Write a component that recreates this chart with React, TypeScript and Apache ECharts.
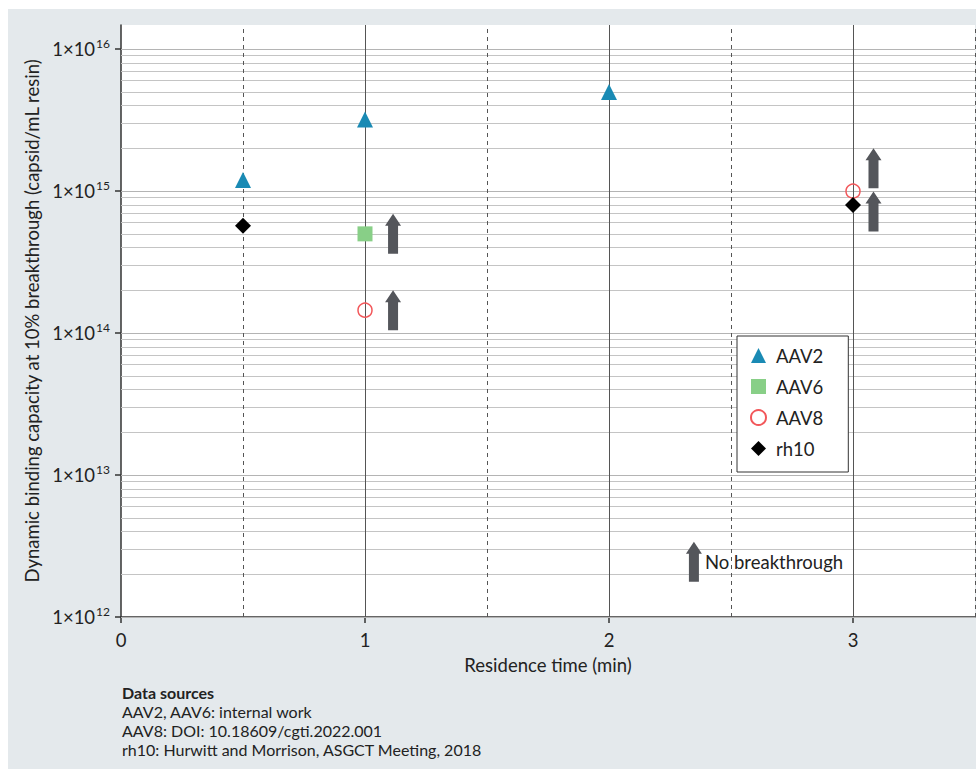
import React, { useEffect, useRef } from 'react';
import * as echarts from 'echarts';

// ---- Data ----
const xTickValues = [0, 1, 2, 3];
const yTickValues = [1e12, 1e13, 1e14, 1e15, 1e16];
const xGridSolid = [1, 2, 3];
const xGridDashed = [0.5, 1.5, 2.5, 3.5];
const minorMultipliers = [2, 3, 4, 5, 6, 7, 8, 9];
const decades = [1e12, 1e13, 1e14, 1e15];

const aav2 = [[0.5, 1.2e15], [1, 3.2e15], [2, 5e15]];
const aav6 = [[1, 5e14]];
const aav8 = [[1, 1.45e14], [3, 1e15]];
const rh10 = [[0.5, 5.7e14], [3, 8e14]];
// arrows marking "no breakthrough" results
const noBreakthrough = [[1.115, 5e14], [1.115, 1.45e14], [3.084, 1.45e15], [3.084, 7.2e14]];
const arrowKey = [[2.348, 2.45e12]];

const sources = [
  'AAV2, AAV6: internal work',
  'AAV8: DOI: 10.18609/cgti.2022.001',
  'rh10: Hurwitt and Morrison, ASGCT Meeting, 2018',
];

const FONT = 'Lato';
const FS = 18.5;
const ARROW = 'path://M8,0 L16,12 L13,12 L13,40 L3,40 L3,12 L0,12 Z';

export default function App() {
  const ref = useRef<HTMLDivElement>(null);
  useEffect(() => {
    const chart = echarts.init(ref.current!, null, { renderer: 'svg' });

    const hLines: any[] = [];
    yTickValues.forEach((v) => hLines.push({ yAxis: v, lineStyle: { color: '#b4b4b4', width: 1, type: 'solid' } }));
    decades.forEach((d) =>
      minorMultipliers.forEach((m) =>
        hLines.push({ yAxis: m * d, lineStyle: { color: '#c4c4c4', width: 1, type: 'solid' } })
      )
    );
    const vLines: any[] = [];
    xGridSolid.forEach((v) => vLines.push({ xAxis: v, lineStyle: { color: '#555', width: 1, type: 'solid' } }));
    xGridDashed.forEach((v) => vLines.push({ xAxis: v, lineStyle: { color: '#555', width: 1, type: [4, 4] } }));

    const option: any = {
      animation: false,
      backgroundColor: '#e4e9ec',
      textStyle: { fontFamily: FONT },
      grid: {
        left: 113,
        top: 16,
        right: 1,
        bottom: 152,
        show: true,
        backgroundColor: '#ffffff',
        borderWidth: 0,
      },
      xAxis: {
        type: 'value',
        min: 0,
        max: 3.5,
        interval: 0.5,
        name: 'Residence time (min)',
        nameLocation: 'middle',
        nameGap: 38,
        nameTextStyle: { fontFamily: FONT, fontSize: FS, color: '#222' },
        axisLine: { show: true, onZero: false, lineStyle: { color: '#333', width: 1.5 } },
        axisTick: { show: true, length: 6, customValues: xTickValues, lineStyle: { color: '#333', width: 1.5 } },
        axisLabel: {
          customValues: xTickValues,
          margin: 13,
          fontFamily: FONT,
          fontSize: FS,
          color: '#222',
          formatter: (v: number) => String(v),
        },
        splitLine: { show: false },
      },
      yAxis: {
        type: 'log',
        logBase: 10,
        min: 1e12,
        max: 1.48e16,
        name: 'Dynamic binding capacity at 10% breakthrough (capsid/mL resin)',
        nameLocation: 'middle',
        nameGap: 77,
        nameTextStyle: { fontFamily: FONT, fontSize: FS, color: '#222' },
        axisLine: { show: true, lineStyle: { color: '#333', width: 1.5 } },
        axisTick: { show: true, length: 6, customValues: yTickValues, lineStyle: { color: '#333', width: 1.5 } },
        axisLabel: {
          customValues: yTickValues,
          margin: 11,
          formatter: (v: number) => `{a|1×10}{b|${Math.round(Math.log10(v))}}`,
          rich: {
            a: { fontFamily: FONT, fontSize: FS, color: '#222', lineHeight: 24 },
            b: { fontFamily: FONT, fontSize: 12, color: '#222', lineHeight: 14, verticalAlign: 'top', padding: [0, 0, 0, 1] },
          },
        },
        splitLine: { show: false },
      },
      legend: {
        show: true,
        orient: 'vertical',
        left: 729,
        top: 327,
        data: ['AAV2', 'AAV6', 'AAV8', 'rh10'],
        backgroundColor: '#ffffff',
        borderColor: '#333',
        borderWidth: 1,
        borderRadius: 0,
        padding: [10, 25, 14, 13],
        itemGap: 12,
        itemWidth: 15,
        itemHeight: 15,
        textStyle: { fontFamily: FONT, fontSize: FS, color: '#222', lineHeight: 19, padding: [0, 0, 0, 5] },
      },
      series: [
        {
          name: 'grid',
          type: 'scatter',
          data: [],
          silent: true,
          z: 1,
          markLine: {
            silent: true,
            z: 1,
            symbol: ['none', 'none'],
            label: { show: false },
            emphasis: { disabled: true },
            data: [...hLines, ...vLines],
          },
        },
        {
          name: 'AAV2',
          type: 'scatter',
          z: 3,
          symbol: 'triangle',
          symbolSize: 16,
          itemStyle: { color: '#1a8ab4', opacity: 1 },
          data: aav2,
        },
        {
          name: 'AAV6',
          type: 'scatter',
          z: 3,
          symbol: 'rect',
          symbolSize: 15,
          itemStyle: { color: '#88cf87', opacity: 1 },
          data: aav6,
        },
        {
          name: 'AAV8',
          type: 'scatter',
          z: 3,
          symbol: 'circle',
          symbolSize: 14,
          itemStyle: { color: 'rgba(255,255,255,0)', borderColor: '#f2575a', borderWidth: 1.5, opacity: 1 },
          data: aav8,
        },
        {
          name: 'rh10',
          type: 'scatter',
          z: 3,
          symbol: 'diamond',
          symbolSize: 16,
          itemStyle: { color: '#000000', opacity: 1 },
          data: rh10,
        },
        {
          name: 'No breakthrough',
          type: 'scatter',
          z: 3,
          symbol: ARROW,
          symbolSize: [16, 40],
          symbolKeepAspect: false,
          itemStyle: { color: '#54565b', opacity: 1 },
          data: noBreakthrough,
        },
        {
          name: 'No breakthrough key',
          type: 'scatter',
          z: 3,
          symbol: ARROW,
          symbolSize: [16, 40],
          symbolKeepAspect: false,
          itemStyle: { color: '#54565b', opacity: 1 },
          label: {
            show: true,
            position: 'right',
            distance: 3,
            formatter: 'No breakthrough',
            fontFamily: FONT,
            fontSize: FS,
            color: '#222',
          },
          data: arrowKey,
        },
      ],
      graphic: [
        {
          type: 'group',
          left: 114,
          top: 675,
          children: [
            {
              type: 'text',
              x: 0,
              y: 0,
              style: { text: 'Data sources', fontFamily: FONT, fontSize: 16, fontWeight: 'bold', fill: '#222' },
            },
            ...sources.map((s, i) => ({
              type: 'text',
              x: 0,
              y: 19 * (i + 1),
              style: { text: s, fontFamily: FONT, fontSize: 16, fill: '#222' },
            })),
          ],
        },
      ],
    };
    chart.setOption(option);
    return () => chart.dispose();
  }, []);
  return (
    <div
      ref={ref}
      style={{ position: 'absolute', left: 8, top: 9, width: 968, height: 760, background: '#e4e9ec' }}
    />
  );
}
